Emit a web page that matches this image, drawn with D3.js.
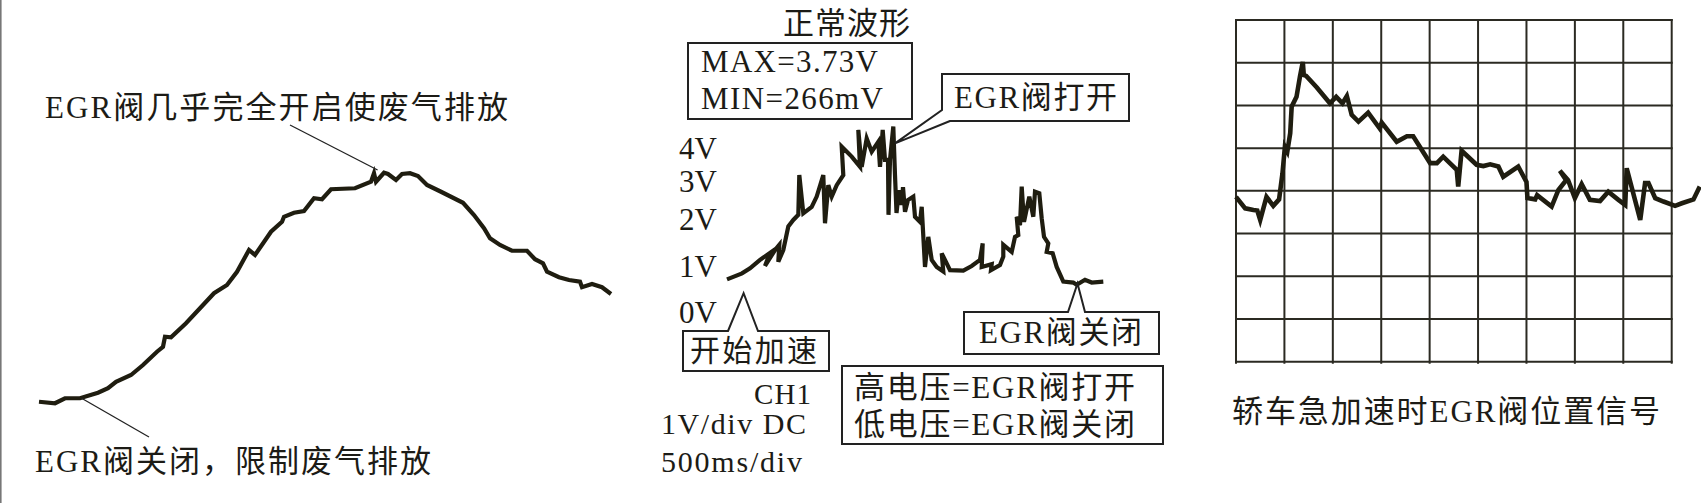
<!DOCTYPE html>
<html>
<head>
<meta charset="utf-8">
<script src="https://cdn.jsdelivr.net/npm/d3@7"></script>
<style>
  html, body { margin: 0; padding: 0; background: #fff; }
  svg { display: block; }
  text { font-family: "Liberation Serif", "Noto Sans CJK SC", serif; fill: #1c1b16; }
</style>
</head>
<body>
<div id="chart"></div>
<script>
// left: EGR valve opening (%) over time (ms)
const leftTime = [10, 170, 270, 420, 600, 700, 780, 930, 1050, 1190, 1250, 1270, 1330, 1480, 1620, 1760, 1890, 1990, 2110, 2170,
  2330, 2440, 2460, 2560, 2660, 2760, 2840, 2930, 3170, 3330, 3360, 3380, 3460, 3500, 3580, 3640, 3720, 3800, 3890, 4030,
  4250, 4360, 4460, 4520, 4620, 4740, 4890, 4970, 5050, 5090, 5210, 5310, 5420, 5440, 5540, 5640, 5730];
const leftOpening = [3.3, 2.7, 4.7, 4.7, 6.9, 8.7, 11.3, 14, 18, 23.3, 25.3, 29.3, 29.1, 34.7, 40.7, 46.7, 50, 55.3, 64, 62,
  71.3, 75.3, 77.3, 78.9, 79.6, 84.7, 84.3, 88.3, 88.7, 91.3, 94.7, 91.3, 94.9, 94.4, 92, 94.4, 94.7, 93.6, 90, 87.3,
  82.9, 78, 72.7, 68.7, 66, 63.7, 63.7, 60.3, 58.7, 55.3, 53.1, 52, 51.3, 49.1, 50.4, 49.1, 46.4];

// middle: scope trace, CH1 1V/div, 500ms/div
const midTime = [0, 150, 230, 330, 430, 380, 480, 523, 513, 563, 613, 663, 713, 723, 763, 847, 897, 963, 980, 1013,
  1047, 1097, 1163, 1147, 1247, 1330, 1313, 1347, 1397, 1447, 1513, 1530, 1557, 1580, 1610, 1615, 1630, 1663, 1680, 1695,
  1720, 1747, 1760, 1780, 1810, 1863, 1880, 1930, 1947, 1980, 2013, 2047, 2097, 2163, 2147, 2230, 2363, 2447, 2530, 2557,
  2547, 2647, 2640, 2730, 2763, 2763, 2847, 2880, 2913, 2897, 2930, 2947, 2970, 3023, 3063, 3080, 3123, 3147, 3170, 3213,
  3197, 3257, 3297, 3363, 3463, 3497, 3580, 3647, 3763];
const midVolts = [0.71, 0.84, 0.95, 1.13, 1.28, 1.0, 1.34, 1.45, 1.09, 1.34, 1.84, 1.98, 2.11, 3.18, 2.15, 2.32, 2.59, 3.18, 1.91, 2.89,
  2.59, 2.89, 3.18, 4.04, 3.74, 3.43, 4.55, 3.43, 4.29, 3.89, 4.19, 3.43, 4.55, 3.64, 3.64, 2.11, 3.64, 4.65, 3.18, 2.16,
  2.76, 2.37, 2.84, 2.19, 2.5, 2.59, 2.06, 1.94, 2.32, 0.98, 1.62, 1.13, 0.98, 0.88, 1.27, 0.91, 0.90, 1.0, 1.13, 1.48,
  0.98, 1.04, 0.91, 1.02, 1.2, 1.45, 1.3, 1.62, 1.66, 2.06, 1.87, 2.85, 1.94, 2.59, 2.06, 2.72, 2.68, 2.02, 1.62, 1.48,
  1.3, 1.27, 0.98, 0.66, 0.64, 0.59, 0.70, 0.64, 0.66];
const voltTicks = [0, 1, 2, 3, 4];
const voltLabels = ['0V', '1V', '2V', '3V', '4V'];

// right: grid divisions
const gridCols = 9;
const gridRows = 8;
const rightDiv = [0, 0.19, 0.36, 0.44, 0.50, 0.63, 0.77, 0.89, 0.96, 1.01, 1.06, 1.12, 1.15, 1.25, 1.32, 1.38, 1.40, 1.45, 1.67, 1.94,
  2.07, 2.20, 2.29, 2.39, 2.53, 2.73, 2.97, 3.01, 3.32, 3.53, 3.66, 4.01, 4.15, 4.28, 4.56, 4.59, 4.66, 4.97, 5.11, 5.25,
  5.42, 5.52, 5.83, 6.00, 6.02, 6.18, 6.22, 6.52, 6.66, 6.82, 6.69, 6.86, 7.00, 7.14, 7.31, 7.52, 7.69, 7.90, 8.04, 8.07,
  8.35, 8.45, 8.52, 8.66, 8.83, 9.07, 9.21, 9.45, 9.58];
const rightLevel = [3.86, 3.59, 3.55, 3.54, 3.32, 3.86, 3.65, 3.80, 4.41, 5.03, 4.92, 5.35, 5.97, 6.20, 6.67, 7.02, 6.71, 6.69, 6.42, 6.05,
  6.20, 6.05, 6.22, 5.78, 5.62, 5.83, 5.46, 5.60, 5.15, 5.28, 5.28, 4.65, 4.65, 4.80, 4.49, 4.10, 4.94, 4.61, 4.58, 4.62,
  4.57, 4.33, 4.57, 4.21, 3.83, 3.80, 3.90, 3.63, 4.02, 4.25, 4.47, 4.25, 3.83, 4.16, 3.79, 3.76, 3.98, 3.79, 3.67, 4.53,
  3.32, 4.18, 4.18, 3.83, 3.75, 3.65, 3.71, 3.80, 4.10];

const width = 1701;
const height = 503;
const ink = '#1f1d10';

const svg = d3.select('#chart').append('svg')
  .attr('width', width)
  .attr('height', height)
  .attr('viewBox', `0 0 ${width} ${height}`);

// text helper: stretch spacing so the label spans the same width as the picture
function label(g, str, x, y, w, size, anchor = 'start') {
  const t = g.append('text')
    .attr('x', x)
    .attr('y', y)
    .attr('font-size', size)
    .attr('text-anchor', anchor)
    .text(str);
  if (w) t.attr('textLength', w).attr('lengthAdjust', 'spacing');
  return t;
}

function renderLeft() {
  const g = svg.append('g').attr('class', 'left');

  g.append('line')
    .attr('x1', 0.8).attr('x2', 0.8)
    .attr('y1', 0).attr('y2', height)
    .attr('stroke', '#777').attr('stroke-width', 1.6);

  const x = d3.scaleLinear().domain([0, 5730]).range([38, 611]);
  const y = d3.scaleLinear().domain([0, 100]).range([410, 160]);

  const pts = leftTime.map((t, i) => [t, leftOpening[i]]);
  g.append('path')
    .attr('d', d3.line().x((d) => x(d[0])).y((d) => y(d[1]))(pts))
    .attr('fill', 'none')
    .attr('stroke', ink)
    .attr('stroke-width', 4.2);

  // leader lines
  g.append('line')
    .attr('x1', 290).attr('y1', 125)
    .attr('x2', x(3396)).attr('y2', y(96))
    .attr('stroke', '#222').attr('stroke-width', 1.3);
  g.append('line')
    .attr('x1', x(436)).attr('y1', y(4.7))
    .attr('x2', 149).attr('y2', 437)
    .attr('stroke', '#222').attr('stroke-width', 1.3);

  label(g, 'EGR阀几乎完全开启使废气排放', 45, 118, 463, 31);
  label(g, 'EGR阀关闭，限制废气排放', 35, 472, 396, 31);
}

function callout(g, pts) {
  g.append('path')
    .attr('d', d3.line()(pts) + 'Z')
    .attr('fill', 'none')
    .attr('stroke', '#222')
    .attr('stroke-width', 2);
}

function renderMiddle() {
  const g = svg.append('g').attr('class', 'middle');

  const x = d3.scaleLinear().domain([0, 3760]).range([727, 1103]);
  const y = d3.scaleLinear().domain(voltTicks).range([312, 266, 219, 181, 148]);

  const axis = g.append('g')
    .attr('transform', 'translate(717,0)')
    .call(d3.axisLeft(y).tickValues(voltTicks).tickSize(0).tickPadding(0)
      .tickFormat((d, i) => voltLabels[i]));
  axis.select('.domain').remove();
  axis.attr('font-family', null).attr('font-size', null);
  axis.selectAll('text')
    .attr('font-size', 31)
    .attr('fill', '#1c1b16')
    .attr('dy', '0.33em')
    .attr('textLength', 38)
    .attr('lengthAdjust', 'spacing');

  const pts = midTime.map((t, i) => [t, midVolts[i]]);
  g.append('path')
    .attr('d', d3.line().x((d) => x(d[0])).y((d) => y(d[1]))(pts))
    .attr('fill', 'none')
    .attr('stroke', ink)
    .attr('stroke-width', 4.2);

  label(g, '正常波形', 783, 34, 127, 31);

  g.append('rect')
    .attr('x', 688).attr('y', 43)
    .attr('width', 224).attr('height', 76)
    .attr('fill', 'none').attr('stroke', '#222').attr('stroke-width', 2);
  label(g, 'MAX=3.73V', 701, 72, 177, 31);
  label(g, 'MIN=266mV', 701, 109, 182, 31);

  // EGR valve open callout
  const openTip = [x(1680), y(4.14)];
  callout(g, [[950, 121], openTip, [942, 110], [942, 74], [1129, 74], [1129, 121]]);
  label(g, 'EGR阀打开', 954, 108, 163, 31);

  // start of acceleration callout
  const startTip = [x(166), y(0.41)];
  callout(g, [[728, 331], startTip, [758, 331], [829, 331], [829, 371], [683, 371], [683, 331]]);
  label(g, '开始加速', 690, 361, 127, 30);

  // EGR valve closed callout
  const closeTip = [x(3505), y(0.62)];
  callout(g, [[1068, 312], closeTip, [1085, 312], [1159, 312], [1159, 354], [964, 354], [964, 312]]);
  label(g, 'EGR阀关闭', 979, 343, 163, 31);

  g.append('rect')
    .attr('x', 842).attr('y', 366)
    .attr('width', 321).attr('height', 78)
    .attr('fill', 'none').attr('stroke', '#222').attr('stroke-width', 2);
  label(g, '高电压=EGR阀打开', 854, 398, 281, 31);
  label(g, '低电压=EGR阀关闭', 854, 435, 281, 31);

  label(g, 'CH1', 754, 404, 57, 29);
  label(g, '1V/div DC', 661, 434, 145, 30);
  label(g, '500ms/div', 661, 472, 141, 30);
}

function renderRight() {
  const g = svg.append('g').attr('class', 'right');

  const x = d3.scaleLinear().domain([0, gridCols]).range([1236, 1671.7]);
  const y = d3.scaleLinear().domain([0, gridRows]).range([361.7, 20]);

  g.append('g').attr('class', 'grid-v')
    .selectAll('line')
    .data(d3.range(gridCols + 1))
    .join('line')
    .attr('x1', (d) => x(d)).attr('x2', (d) => x(d))
    .attr('y1', y(gridRows) - 1).attr('y2', y(0) + 2)
    .attr('stroke', '#2b2a22').attr('stroke-width', 2);

  g.append('g').attr('class', 'grid-h')
    .selectAll('line')
    .data(d3.range(gridRows + 1))
    .join('line')
    .attr('x1', x(0) - 1).attr('x2', x(gridCols) + 1)
    .attr('y1', (d) => y(d)).attr('y2', (d) => y(d))
    .attr('stroke', '#2b2a22').attr('stroke-width', 2);

  const pts = rightDiv.map((d, i) => [d, rightLevel[i]]);
  g.append('path')
    .attr('d', d3.line().x((d) => x(d[0])).y((d) => y(d[1]))(pts))
    .attr('fill', 'none')
    .attr('stroke', ink)
    .attr('stroke-width', 4.6);

  label(g, '轿车急加速时EGR阀位置信号', 1232, 422, 428, 31);
}

renderLeft();
renderMiddle();
renderRight();
</script>
</body>
</html>
